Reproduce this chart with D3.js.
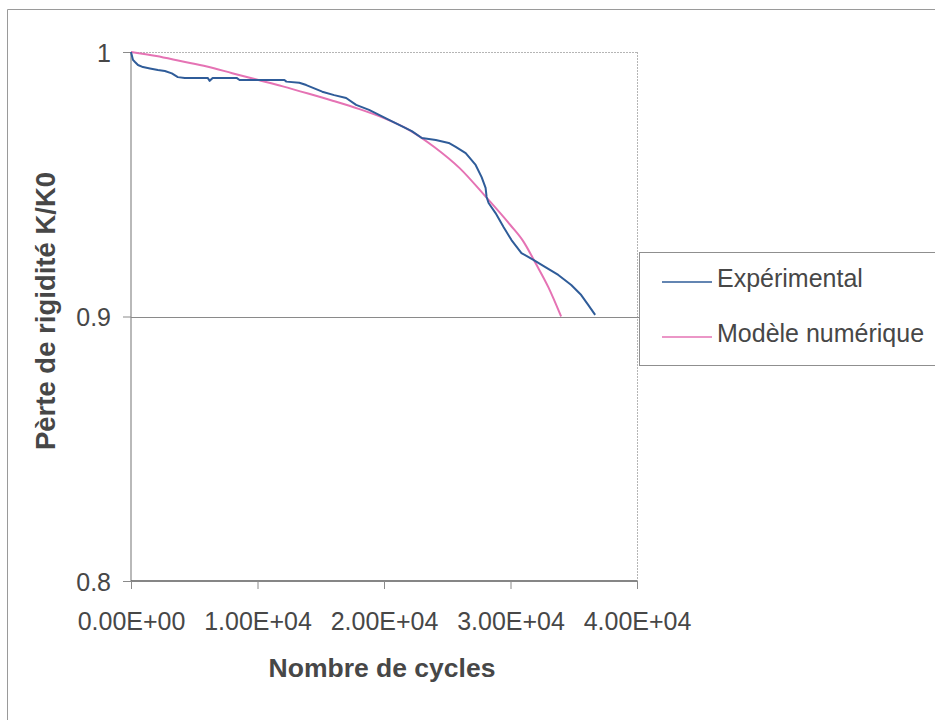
<!DOCTYPE html>
<html>
<head>
<meta charset="utf-8">
<script src="https://cdn.jsdelivr.net/npm/d3@7"></script>
<style>
  html, body { margin: 0; padding: 0; background: #ffffff; }
  svg { display: block; }
  text { font-family: "Liberation Sans", Arial, sans-serif; fill: #474747; }
</style>
</head>
<body>
<svg id="chart" width="935" height="720"></svg>
<script>
// Number of cycles (x) and stiffness ratio K/K0 (y), experimental measurement
const expCycles = [0, 157, 315, 551, 945, 1496, 2126, 2677, 3228, 3701, 4252, 6063, 6220, 6457,
  8346, 8583, 10709, 12126, 12283, 13307, 13858, 15118, 16063, 17008, 17795, 18819, 20394,
  22197, 22992, 24094, 25118, 25669, 26457, 27244, 27717, 28031, 28110, 28268, 28819, 29449,
  30079, 30866, 31811, 32756, 33779, 34803, 35591, 36142, 36693];
const expValues = [1.000, 0.9970, 0.9962, 0.9951, 0.9943, 0.9938, 0.9932, 0.9928, 0.9919, 0.9905,
  0.9902, 0.9902, 0.9891, 0.9902, 0.9902, 0.9894, 0.9894, 0.9894, 0.9888, 0.9884, 0.9875, 0.9850,
  0.9837, 0.9826, 0.9800, 0.9781, 0.9743, 0.9701, 0.9675, 0.9667, 0.9656, 0.9641, 0.9618, 0.9573,
  0.9527, 0.9486, 0.9452, 0.9429, 0.9391, 0.9338, 0.9289, 0.9240, 0.9214, 0.9187, 0.9157, 0.9119,
  0.9081, 0.9044, 0.9006];

// Numerical model
const modelCycles = [0, 2000, 4000, 6000, 8000, 10000, 12000, 14000, 16000, 18000, 20000, 22000,
  24000, 26000, 28000, 30000, 31000, 32000, 33000, 34000];
const modelValues = [1.000, 0.9985, 0.9965, 0.9945, 0.9920, 0.9895, 0.9870, 0.9843, 0.9815, 0.9785,
  0.9750, 0.9705, 0.9640, 0.9560, 0.9455, 0.9345, 0.9285, 0.9200, 0.9110, 0.9000];

const xTicks = [0, 10000, 20000, 30000, 40000];
const xTickLabels = ["0.00E+00", "1.00E+04", "2.00E+04", "3.00E+04", "4.00E+04"];
const yTicks = [0.8, 0.9, 1];
const yTickLabels = ["0.8", "0.9", "1"];

const seriesNames = ["Expérimental", "Modèle numérique"];
const seriesColors = ["#2f5c99", "#e573b4"];
const xTitle = "Nombre de cycles";
const yTitle = "Pèrte de rigidité K/K0";

const svg = d3.select("#chart");

const x = d3.scaleLinear().domain([0, 40000]).range([131, 637]);
const y = d3.scaleLinear().domain([0.8, 1]).range([581, 52]);

// Chart frame (left and top edges)
svg.append("path")
  .attr("d", "M7.5,720 L7.5,9.5 L935,9.5")
  .attr("fill", "none")
  .attr("stroke", "#9a9a9a")
  .attr("stroke-width", 1);

// Plot area: top edge / 1.0 gridline and right edge, dotted grey
svg.append("line")
  .attr("x1", x(0)).attr("x2", x(40000))
  .attr("y1", y(1) + 0.5).attr("y2", y(1) + 0.5)
  .attr("stroke", "#b5b5b5").attr("stroke-dasharray", "2,1");
svg.append("line")
  .attr("x1", x(40000) + 0.5).attr("x2", x(40000) + 0.5)
  .attr("y1", y(1)).attr("y2", y(0.8))
  .attr("stroke", "#b5b5b5").attr("stroke-dasharray", "2,1");

// Horizontal gridline at 0.9
svg.append("line")
  .attr("x1", x(0)).attr("x2", x(40000) + 2)
  .attr("y1", Math.round(y(0.9)) + 0.5).attr("y2", Math.round(y(0.9)) + 0.5)
  .attr("stroke", "#8a8a8a").attr("stroke-width", 1.2);

// Axes
const yAxis = d3.axisLeft(y)
  .tickValues(yTicks)
  .tickFormat((d, i) => yTickLabels[i])
  .tickSize(8)
  .tickPadding(12);
const gy = svg.append("g").attr("transform", `translate(${x(0)},0)`).call(yAxis);

const xAxis = d3.axisBottom(x)
  .tickValues(xTicks)
  .tickFormat((d, i) => xTickLabels[i])
  .tickSize(8)
  .tickPadding(23);
const gx = svg.append("g").attr("transform", `translate(0,${y(0.8)})`).call(xAxis);

[gx, gy].forEach(g => {
  g.select(".domain").attr("stroke", "#5e5e5e").attr("stroke-width", 1.4);
  g.selectAll(".tick line").attr("stroke", "#8a8a8a");
  g.selectAll(".tick text")
    .attr("font-family", "Liberation Sans, Arial, sans-serif")
    .attr("font-size", 25)
    .attr("fill", "#474747");
});
gy.select(".domain").attr("d", `M0,${y(1)}V${y(0.8)}`).attr("stroke", "#8a8a8a").attr("stroke-width", 1.2);
gx.select(".domain").attr("d", `M${x(0)},0H${x(40000)}`);
gy.selectAll(".tick text").attr("dy", "0.36em");

// Axis titles
svg.append("text")
  .attr("x", 382).attr("y", 677)
  .attr("text-anchor", "middle")
  .attr("font-size", 26.5)
  .attr("font-weight", "bold")
  .text(xTitle);

svg.append("text")
  .attr("transform", "translate(55,311) rotate(-90)")
  .attr("text-anchor", "middle")
  .attr("font-size", 27.5)
  .attr("font-weight", "bold")
  .text(yTitle);

// Series
const line = d3.line()
  .x(d => x(d[0]))
  .y(d => y(d[1]));

const expData = expCycles.map((c, i) => [c, expValues[i]]);
const modelData = modelCycles.map((c, i) => [c, modelValues[i]]);

svg.append("path")
  .datum(modelData)
  .attr("fill", "none")
  .attr("stroke", seriesColors[1])
  .attr("stroke-width", 2)
  .attr("d", line.curve(d3.curveMonotoneX));

svg.append("path")
  .datum(expData)
  .attr("fill", "none")
  .attr("stroke", seriesColors[0])
  .attr("stroke-width", 2)
  .attr("stroke-linejoin", "round")
  .attr("d", line.curve(d3.curveLinear));

// Legend
const legend = svg.append("g");
legend.append("rect")
  .attr("x", 639.5).attr("y", 252.5)
  .attr("width", 320).attr("height", 113)
  .attr("fill", "#ffffff")
  .attr("stroke", "#8f8f8f");

const legendRows = [282, 337];
seriesNames.forEach((name, i) => {
  legend.append("line")
    .attr("x1", 662).attr("x2", 712)
    .attr("y1", legendRows[i]).attr("y2", legendRows[i])
    .attr("stroke", seriesColors[i])
    .attr("stroke-width", 1.6);
  legend.append("text")
    .attr("x", 717).attr("y", legendRows[i] + 5)
    .attr("font-size", 25)
    .text(name);
});
</script>
</body>
</html>
